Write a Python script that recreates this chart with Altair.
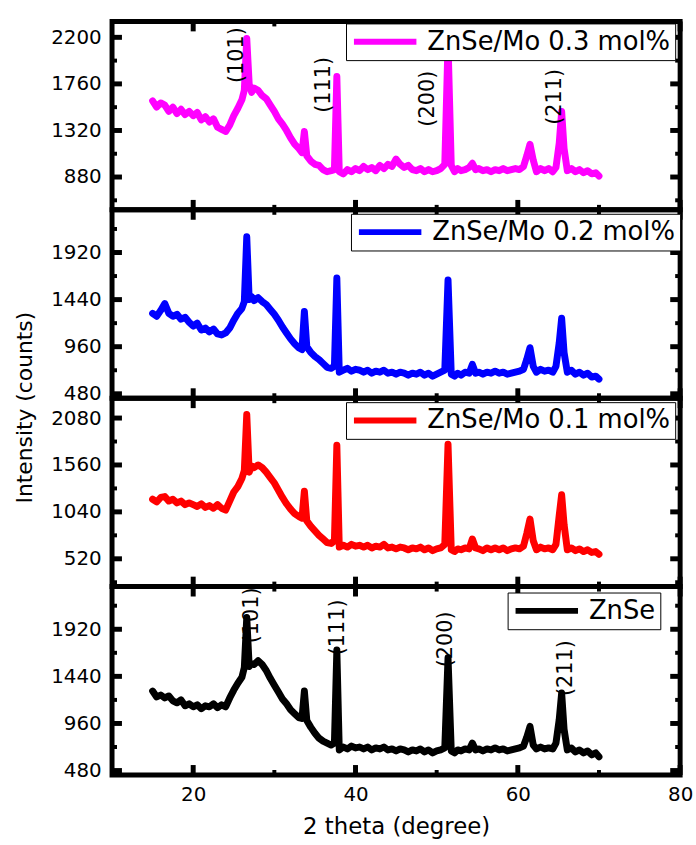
import altair as alt
import pandas as pd

# ---------------- data ----------------
two_theta = [
    15, 15.5, 16, 16.5, 17, 17.5, 18, 18.5, 19, 19.5, 20, 20.5, 21, 21.5, 22, 22.5, 23, 23.5, 24, 24.5, 25, 25.5, 26,
    26.3, 26.6, 26.9, 27.2, 27.5,
    28, 28.5, 29, 29.5, 30, 30.5, 31, 31.5, 32, 32.5, 33,
    33.4, 33.7, 34.0,
    34.5, 35, 35.5, 36, 36.5, 37,
    37.4, 37.7, 38.0,
    38.5, 39, 39.5, 40, 40.5, 41, 41.5, 42, 42.5, 43, 43.5, 44, 44.5, 45, 45.5, 46, 46.5, 47, 47.5, 48, 48.5, 49, 49.5, 50, 50.5, 51,
    51.4, 51.8,
    52.2, 52.6, 53, 53.5, 54,
    54.4, 54.8,
    55.2, 55.7, 56.2, 56.7, 57.2, 57.7, 58.2, 58.7, 59.2, 59.7, 60.2, 60.7,
    61.1, 61.5, 61.9,
    62.3, 62.8, 63.3, 63.8, 64.3, 64.7,
    65.1, 65.4, 65.7,
    66.1, 66.6, 67.1, 67.6, 68.1, 68.6, 69.1, 69.6, 70,
]

mo03 = [
    1600, 1540, 1580, 1560, 1500, 1540, 1480, 1520, 1470, 1500, 1460, 1490, 1420, 1450, 1400, 1430, 1350, 1330, 1310, 1370, 1460, 1530, 1610,
    1700, 2190, 1760, 1680, 1720,
    1700, 1650, 1620, 1560, 1500, 1430, 1380, 1320, 1250, 1190, 1150,
    1110, 1310, 1080,
    1030, 1000, 990, 950, 930, 940,
    950, 1830, 930,
    910, 950, 930, 960, 940, 980, 950, 970, 940, 990, 960, 1000, 980, 1050, 1000, 970, 990, 950, 940, 960, 930, 950, 930, 940, 960, 1000,
    2150, 990,
    930, 960, 940, 950, 970,
    1010, 950,
    960, 940, 950, 930, 950, 940, 960, 940, 950, 960, 950, 980,
    1080, 1190, 1040,
    930, 960, 940, 960, 930, 970,
    1200, 1500, 1150,
    940, 960, 930, 950, 920, 940, 910, 920, 890,
]

mo02 = [
    1300, 1270, 1330, 1400, 1300, 1270, 1290, 1240, 1260, 1210, 1170, 1200, 1130, 1150, 1110, 1140, 1090, 1080, 1100, 1150, 1230, 1300, 1350,
    1420, 2080, 1440, 1470, 1430,
    1460, 1420, 1390, 1340, 1290, 1230, 1160, 1100, 1040, 990, 950,
    930, 1320, 960,
    900, 860, 830, 790, 750, 740,
    760, 1660, 700,
    720, 740, 710, 730, 720, 700, 720, 690, 710, 700, 720, 690, 700, 680, 700, 690, 670, 690, 680, 700, 670, 690, 660, 680, 700, 720,
    1640, 680,
    660, 690, 670, 700, 690,
    780, 690,
    700, 680, 700, 690, 710, 690, 700, 680, 690, 700, 710, 730,
    830, 950, 760,
    700, 730, 710, 720, 700, 760,
    1000, 1250, 900,
    700, 720, 680, 700, 670, 690, 650, 660, 630,
]

mo01 = [
    1180, 1150, 1200, 1210, 1160, 1180, 1140, 1160, 1120, 1140, 1120, 1100, 1130, 1090, 1110, 1080, 1120, 1080, 1060, 1160, 1260, 1320, 1410,
    1500, 2120, 1480, 1550, 1530,
    1560, 1530, 1480, 1420, 1360, 1280, 1200, 1130, 1070, 1020, 990,
    970, 1270, 940,
    880, 830, 780, 740, 700, 690,
    720, 1780, 650,
    670, 650, 680, 660, 670, 650, 670, 640, 660, 650, 680, 640, 650, 630, 650, 640, 620, 640, 630, 650, 620, 640, 610, 630, 640, 680,
    1790, 620,
    600, 630, 620, 640, 630,
    740, 640,
    630, 610, 640, 620, 640, 620, 640, 610, 630, 640, 630, 660,
    800, 960, 720,
    620, 650, 630, 640, 620, 680,
    1000, 1230, 900,
    620, 640, 610, 630, 600, 620, 590, 600, 570,
]

znse = [
    1290, 1230, 1250, 1220, 1240, 1190, 1170, 1200, 1140, 1160, 1130, 1150, 1110, 1140, 1130, 1160, 1120, 1150, 1130, 1220, 1300, 1370, 1430,
    1530, 2040, 1540, 1570, 1560,
    1600, 1560, 1500, 1420, 1350, 1280, 1210, 1160, 1100, 1060, 1020,
    1010, 1290, 990,
    920, 860, 810, 780, 760, 740,
    760, 1710, 690,
    720, 700, 730, 710, 720, 700, 720, 690, 710, 700, 720, 690, 700, 680, 700, 690, 670, 690, 680, 700, 670, 690, 660, 680, 690, 710,
    1630, 680,
    660, 690, 680, 700, 690,
    760, 690,
    700, 680, 700, 690, 710, 690, 700, 680, 690, 700, 710, 730,
    820, 930, 740,
    700, 720, 700, 710, 700, 760,
    1000, 1270, 900,
    690, 710, 670, 690, 660, 680, 640, 660, 620,
]

series_values = [mo03, mo02, mo01, znse]
series_names = ["ZnSe/Mo 0.3 mol%", "ZnSe/Mo 0.2 mol%", "ZnSe/Mo 0.1 mol%", "ZnSe"]
series_colors = ["#FF00FF", "#0000FF", "#FF0000", "#000000"]

y_domains = [[570, 2350], [435, 2355], [212, 2300], [435, 2355]]
y_major = [[880, 1320, 1760, 2200], [480, 960, 1440, 1920], [520, 1040, 1560, 2080], [480, 960, 1440, 1920]]
y_minor = [[660, 1100, 1540, 1980], [720, 1200, 1680, 2160], [260, 780, 1300, 1820], [720, 1200, 1680, 2160]]
x_major = [20, 40, 60, 80]
x_minor = [30, 50, 70]

peak_labels = ["(101)", "(111)", "(200)", "(211)"]
top_label_x = [25.4, 36.1, 48.9, 64.6]
top_label_y = [2032, 1751, 1620, 1638]
bottom_label_x = [27.2, 37.9, 51.2, 66.0]
bottom_label_y = [2062, 1940, 1818, 1524]

for v in series_values:
    assert len(v) == len(two_theta), (len(v), len(two_theta))

# ---------------- layout ----------------
W, H = 573, 190
FONT = "DejaVu Sans"
legend_x = [236, 241, 236, 399]
legend_y = [2, 4, 4, 6]
MAJ, MIN = 10, 5
LEGEND_LINE = "M-1,0H5"   # horizontal stroke used as legend symbol


def panel(i):
    show_x = i == 3
    xs = alt.Scale(domain=[10, 80], nice=False, zero=False)
    ysc = alt.Scale(domain=y_domains[i], nice=False, zero=False)
    if show_x:
        xaxis = alt.Axis(values=x_major, format="d", title="2 theta (degree)", ticks=False, tickSize=0,
                         domain=False, grid=False, labelPadding=10, titlePadding=11, labelFlush=False,
                         labelFontSize=20, titleFontSize=23)
    else:
        xaxis = None
    if i == 1:
        yaxis = alt.Axis(values=y_major[i], format="d", title="Intensity (counts)", ticks=False, tickSize=0,
                         domain=False, grid=False, labelPadding=11, labelFontSize=20, labelFlush=False,
                         titleFontSize=22, titleX=-88, titleY=199, titleAlign="center",
                         titleBaseline="middle", titleAngle=270)
    else:
        yaxis = alt.Axis(values=y_major[i], format="d", title=None, ticks=False, tickSize=0,
                         domain=False, grid=False, labelPadding=11, labelFontSize=20, labelFlush=False)

    X = lambda: alt.X("x:Q", scale=xs, axis=xaxis)
    Y = lambda: alt.Y("y:Q", scale=ysc, axis=yaxis)

    df = pd.DataFrame({"x": two_theta, "y": series_values[i], "s": series_names[i]})
    line = alt.Chart(df).mark_line(strokeWidth=7, strokeJoin="round", strokeCap="round").encode(
        x=X(), y=Y(),
        color=alt.Color("s:N", scale=alt.Scale(domain=[series_names[i]], range=[series_colors[i]]),
                        legend=alt.Legend(title=None, orient="none", legendX=legend_x[i], legendY=legend_y[i],
                                          symbolType=LEGEND_LINE, symbolSize=441, symbolStrokeWidth=6,
                                          labelFontSize=26, labelFont=FONT, labelColor="black",
                                          labelOffset=50, padding=5, fillColor="white",
                                          strokeColor="black", cornerRadius=0, labelLimit=400)),
    )

    ymaj = pd.DataFrame({"y": y_major[i]})
    ymin = pd.DataFrame({"y": y_minor[i]})
    xmaj = pd.DataFrame({"x": x_major})
    xmin = pd.DataFrame({"x": x_minor})

    layers = [line]
    for d, ln, sw in [(ymaj, MAJ, 5), (ymin, MIN, 4)]:
        layers.append(alt.Chart(d).mark_rule(strokeWidth=sw, color="black").encode(
            y=Y(), x=alt.value(0), x2=alt.value(ln)))
        layers.append(alt.Chart(d).mark_rule(strokeWidth=sw, color="black").encode(
            y=Y(), x=alt.value(W), x2=alt.value(W - ln)))
    for d, ln, sw in [(xmaj, MAJ, 5), (xmin, MIN, 4)]:
        layers.append(alt.Chart(d).mark_rule(strokeWidth=sw, color="black").encode(
            x=X(), y=alt.value(0), y2=alt.value(ln)))
        layers.append(alt.Chart(d).mark_rule(strokeWidth=sw, color="black").encode(
            x=X(), y=alt.value(H), y2=alt.value(H - ln)))

    if i in (0, 3):
        lx = top_label_x if i == 0 else bottom_label_x
        ly = top_label_y if i == 0 else bottom_label_y
        tdf = pd.DataFrame({"x": lx, "y": ly, "t": peak_labels})
        layers.append(alt.Chart(tdf).mark_text(angle=270, fontSize=21, font=FONT, color="black",
                                               align="center", baseline="middle").encode(
            x=X(), y=Y(), text="t:N"))

    return alt.layer(*layers).properties(width=W, height=H)


chart = alt.vconcat(*[panel(i) for i in range(4)], spacing=0, bounds="flush").resolve_scale(
    color="independent", x="independent", y="independent"
).resolve_legend(color="independent").properties(
    padding={"left": 11, "top": 13, "right": 0, "bottom": 0}, background="white"
).configure_view(
    stroke="black", strokeWidth=5
).configure_axis(
    labelFont=FONT, titleFont=FONT, labelColor="black", titleColor="black", titleFontWeight="normal"
)

chart.save("out.html", embed_options={"renderer": "svg", "actions": False})
